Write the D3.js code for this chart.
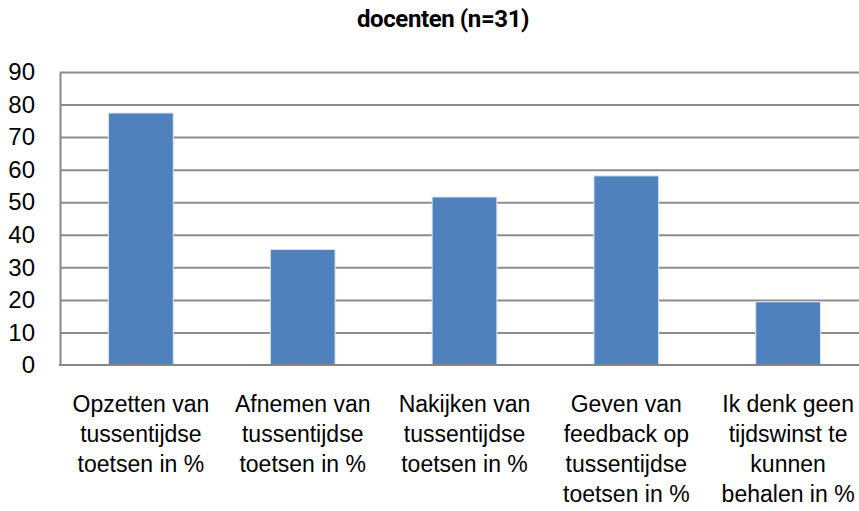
<!DOCTYPE html>
<html>
<head>
<meta charset="utf-8">
<script src="https://cdn.jsdelivr.net/npm/d3@7"></script>
<style>
  body { margin: 0; background: #fff; }
  text { font-family: "Liberation Sans", Arial, sans-serif; }
</style>
</head>
<body>
<div id="chart"></div>
<script>
(function() {

  var width = 859, height = 511;

  // data
  var categories = [
    ["Opzetten van", "tussentijdse", "toetsen in %"],
    ["Afnemen van", "tussentijdse", "toetsen in %"],
    ["Nakijken van", "tussentijdse", "toetsen in %"],
    ["Geven van", "feedback op", "tussentijdse", "toetsen in %"],
    ["Ik denk geen", "tijdswinst te", "kunnen", "behalen in %"]
  ];
  var values = [77.4, 35.5, 51.6, 58.1, 19.4];
  var yTicks = [0, 10, 20, 30, 40, 50, 60, 70, 80, 90];
  var title = "docenten (n=31)";

  var margin = { left: 60, top: 72, bottom: 146 };
  var plotRight = 869; // plot runs past the window edge

  var svg = d3.select("#chart")
    .append("svg")
    .attr("width", width)
    .attr("height", height);

  var x = d3.scaleBand()
    .domain(d3.range(values.length))
    .range([margin.left, plotRight])
    .paddingInner(0.6)
    .paddingOuter(0.3);

  var y = d3.scaleLinear()
    .domain([0, 90])
    .range([height - margin.bottom, margin.top]);

  // gridlines
  svg.append("g")
    .selectAll("line")
    .data(yTicks.filter(function(d) { return d > 0; }))
    .enter().append("line")
    .attr("x1", margin.left)
    .attr("x2", plotRight)
    .attr("y1", function(d) { return y(d) + 0.5; })
    .attr("y2", function(d) { return y(d) + 0.5; })
    .attr("stroke", "#8c8c8c")
    .attr("stroke-width", 2);

  // bars
  svg.append("g")
    .selectAll("rect")
    .data(values)
    .enter().append("rect")
    .attr("x", function(d, i) { return x(i); })
    .attr("y", function(d) { return y(d); })
    .attr("width", x.bandwidth())
    .attr("height", function(d) { return y(0) - y(d); })
    .attr("fill", "#4f81bd")
    .attr("stroke", "#dbe5f1")
    .attr("stroke-width", 1);

  // y axis
  var yAxis = d3.axisLeft(y)
    .tickValues(yTicks)
    .tickSize(0)
    .tickPadding(25);

  var gy = svg.append("g")
    .attr("transform", "translate(" + margin.left + ",0)")
    .call(yAxis);
  gy.select(".domain").attr("stroke", "#868686").attr("stroke-width", 2);
  gy.selectAll("text")
    .attr("font-size", 24)
    .attr("fill", "#000")
    .style("font-family", "'Liberation Sans', Arial, sans-serif");

  // x axis baseline
  svg.append("line")
    .attr("x1", margin.left - 1)
    .attr("x2", plotRight)
    .attr("y1", y(0))
    .attr("y2", y(0))
    .attr("stroke", "#868686")
    .attr("stroke-width", 2);

  // category labels
  var labels = svg.append("g")
    .selectAll("text")
    .data(categories)
    .enter().append("text")
    .attr("text-anchor", "middle")
    .attr("font-size", 23)
    .attr("fill", "#000")
    .attr("transform", function(d, i) {
      return "translate(" + (x(i) + x.bandwidth() / 2) + "," + 412 + ")";
    });

  labels.selectAll("tspan")
    .data(function(d) { return d; })
    .enter().append("tspan")
    .attr("x", 0)
    .attr("dy", function(d, i) { return i === 0 ? 0 : 30; })
    .text(function(d) { return d; });

  // title
  svg.append("text")
    .attr("x", 443)
    .attr("y", 27)
    .attr("text-anchor", "middle")
    .attr("font-size", 24)
    .attr("font-weight", "bold")
    .attr("letter-spacing", -0.4)
    .attr("fill", "#000")
    .style("font-family", "Roboto, sans-serif")
    .text(title);

})();
</script>
</body>
</html>
